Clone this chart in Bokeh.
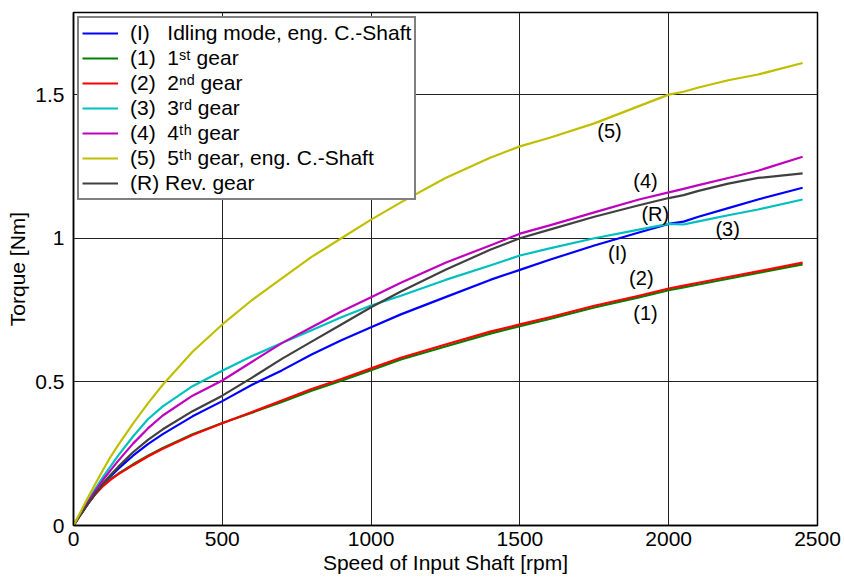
from bokeh.plotting import figure
from bokeh.models import FixedTicker, Legend, LegendItem, Range1d, ColumnDataSource
from bokeh.core.properties import value
from bokeh.embed import file_html
from bokeh.resources import INLINE

# ---------------- data ----------------
rpm = [0, 25, 50, 75, 100, 125, 150, 200, 250, 300, 400, 500, 600, 700, 800, 900, 1000,
       1100, 1250, 1400, 1500, 1600, 1750, 1900, 2000, 2050, 2100, 2200, 2300, 2450]

torque_idle = [0, 0.04, 0.078, 0.113, 0.145, 0.172, 0.197, 0.243, 0.283, 0.318, 0.38, 0.433, 0.49, 0.54, 0.595,
               0.645, 0.69, 0.735, 0.795, 0.855, 0.89, 0.925, 0.975, 1.02, 1.05, 1.058, 1.075, 1.105, 1.135, 1.176]
torque_g1 = [0, 0.04, 0.078, 0.112, 0.14, 0.162, 0.18, 0.213, 0.243, 0.27, 0.318, 0.357, 0.393, 0.43, 0.469,
             0.504, 0.541, 0.578, 0.623, 0.668, 0.694, 0.719, 0.759, 0.794, 0.819, 0.829, 0.839, 0.859, 0.879, 0.909]
torque_g2 = [0, 0.04, 0.078, 0.111, 0.138, 0.16, 0.178, 0.21, 0.24, 0.267, 0.315, 0.356, 0.395, 0.435, 0.475,
             0.51, 0.547, 0.584, 0.63, 0.675, 0.70, 0.725, 0.765, 0.80, 0.825, 0.835, 0.845, 0.865, 0.885, 0.915]
torque_g3 = [0, 0.045, 0.088, 0.13, 0.17, 0.207, 0.243, 0.31, 0.37, 0.415, 0.485, 0.539, 0.59, 0.635, 0.68,
             0.725, 0.766, 0.80, 0.855, 0.905, 0.94, 0.965, 1.0, 1.03, 1.05, 1.048, 1.059, 1.08, 1.10, 1.135]
torque_g4 = [0, 0.043, 0.084, 0.123, 0.16, 0.193, 0.225, 0.285, 0.338, 0.383, 0.452, 0.505, 0.57, 0.635, 0.69,
             0.745, 0.795, 0.845, 0.915, 0.975, 1.016, 1.045, 1.09, 1.135, 1.16, 1.172, 1.185, 1.21, 1.235, 1.284]
torque_g5 = [0, 0.05, 0.10, 0.148, 0.195, 0.24, 0.28, 0.355, 0.425, 0.49, 0.605, 0.70, 0.785, 0.86, 0.935,
             1.00, 1.065, 1.125, 1.21, 1.28, 1.32, 1.35, 1.40, 1.46, 1.50, 1.51, 1.525, 1.55, 1.57, 1.61]
torque_rev = [0, 0.04, 0.078, 0.114, 0.147, 0.177, 0.204, 0.255, 0.298, 0.335, 0.398, 0.452, 0.515, 0.58, 0.64,
              0.70, 0.76, 0.815, 0.89, 0.96, 1.0, 1.03, 1.075, 1.115, 1.14, 1.15, 1.165, 1.19, 1.21, 1.226]

NB = "\u00a0"
series_labels = [
    "(I)" + NB * 3 + "Idling mode, eng. C.-Shaft",
    "(1)" + NB * 2 + "1\u02e2\u1d57 gear",
    "(2)" + NB * 2 + "2\u207f\u1d48 gear",
    "(3)" + NB * 2 + "3\u02b3\u1d48 gear",
    "(4)" + NB * 2 + "4\u1d57\u02b0 gear",
    "(5)" + NB * 2 + "5\u1d57\u02b0 gear, eng. C.-Shaft",
    "(R)" + NB + "Rev. gear",
]
series_values = [torque_idle, torque_g1, torque_g2, torque_g3, torque_g4, torque_g5, torque_rev]
series_colors = ["#0000ff", "#008000", "#ff0000", "#00bfbf", "#bf00bf", "#bfbf00", "#404040"]
draw_order = [0, 1, 2, 3, 4, 6, 5]

curve_tags = ["(5)", "(4)", "(R)", "(3)", "(I)", "(2)", "(1)"]
curve_tag_x = [1801, 1922, 1955, 2198, 1828, 1908, 1922]
curve_tag_y = [1.375, 1.201, 1.086, 1.034, 0.950, 0.860, 0.741]

x_ticks = [0, 500, 1000, 1500, 2000, 2500]
y_ticks = [0, 0.5, 1, 1.5]
y_tick_labels = {0: "0", 0.5: "0.5", 1: "1", 1.5: "1.5"}

FONT = "Liberation Sans"
FS = "21px"

# ---------------- figure ----------------
p = figure(
    width=844, height=583,
    frame_width=744, frame_height=513,
    min_border_left=73, min_border_right=27, min_border_top=12, min_border_bottom=58,
    x_range=Range1d(0, 2500), y_range=Range1d(0, 1.786),
    output_backend="svg", toolbar_location=None,
    background_fill_color="white", border_fill_color="white",
)
p.outline_line_color = "black"
p.outline_line_width = 1.5

p.xaxis.ticker = FixedTicker(ticks=x_ticks)
p.yaxis.ticker = FixedTicker(ticks=y_ticks)
p.yaxis.major_label_overrides = y_tick_labels

for ax in (p.xaxis, p.yaxis):
    ax.major_tick_in = 0
    ax.major_tick_out = 0
    ax.minor_tick_in = 0
    ax.minor_tick_out = 0
    ax.axis_line_color = "black"
    ax.axis_line_width = 1.5
    ax.major_label_text_font = FONT
    ax.major_label_text_font_size = FS
    ax.major_label_text_color = "black"
    ax.axis_label_text_font = FONT
    ax.axis_label_text_font_size = FS
    ax.axis_label_text_font_style = "normal"
    ax.axis_label_text_color = "black"

p.xaxis.axis_label = "Speed of Input Shaft [rpm]"
p.yaxis.axis_label = "Torque [Nm]"
p.xaxis.major_label_standoff = 6
p.xaxis.axis_label_standoff = 2
p.yaxis.major_label_standoff = 9
p.yaxis.axis_label_standoff = 3

p.xgrid.ticker = FixedTicker(ticks=x_ticks)
p.ygrid.ticker = FixedTicker(ticks=y_ticks)
for g in (p.xgrid, p.ygrid):
    g.grid_line_color = "#222222"
    g.grid_line_width = 1
    g.grid_line_alpha = 1.0

renderers = {}
for i in draw_order:
    src = ColumnDataSource(dict(x=rpm, y=series_values[i]))
    renderers[i] = p.line("x", "y", source=src, line_color=series_colors[i], line_width=2.2,
                          line_join="round")

tag_src = ColumnDataSource(dict(x=curve_tag_x, y=curve_tag_y, t=curve_tags))
p.text("x", "y", text="t", source=tag_src, text_font=value(FONT), text_font_size="20px",
       text_align="center", text_baseline="middle", text_color="black")

items = [LegendItem(label=series_labels[i], renderers=[renderers[i]]) for i in range(7)]
legend = Legend(items=items, location="top_left")
legend.label_text_font = FONT
legend.label_text_font_size = FS
legend.label_text_color = "black"
legend.label_height = 24
legend.glyph_width = 36
legend.glyph_height = 24
legend.spacing = 1
legend.padding = 3
legend.margin = 4
legend.border_line_color = "black"
legend.border_line_width = 2
legend.label_standoff = 12
legend.background_fill_color = "white"
legend.background_fill_alpha = 1
p.add_layout(legend)

open("out.html", "w").write(file_html(p, INLINE))
